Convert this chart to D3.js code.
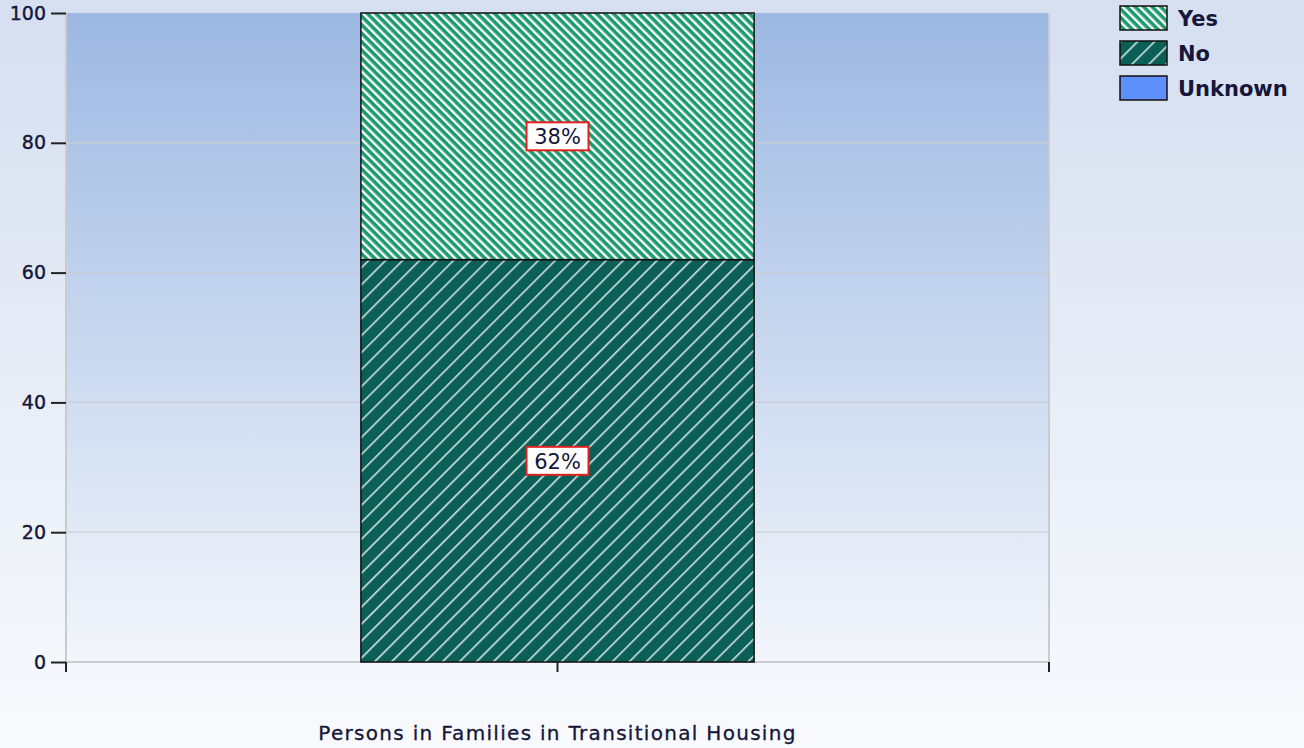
<!DOCTYPE html>
<html>
<head>
<meta charset="utf-8">
<script src="https://cdn.jsdelivr.net/npm/d3@7"></script>
<style>
  html, body { margin: 0; padding: 0; }
  body { width: 1304px; height: 748px; overflow: hidden; }
  text { font-family: "DejaVu Sans", sans-serif; }
</style>
</head>
<body>
<script>
const width = 1304;
const height = 748;

// data
const categories = ["Persons in Families in Transitional Housing"];
const seriesNames = ["No", "Yes", "Unknown"];
const noValues = [62];
const yesValues = [38];
const unknownValues = [0];
const yTicks = [0, 20, 40, 60, 80, 100];
const legendItems = ["Yes", "No", "Unknown"];

const margin = { top: 13, left: 66, right: 255, bottom: 86 };
const textColor = "#16163a";

const svg = d3.select("body")
  .append("svg")
  .attr("width", width)
  .attr("height", height);

const defs = svg.append("defs");

// page gradient
const pageGrad = defs.append("linearGradient")
  .attr("id", "pageGrad").attr("x1", 0).attr("y1", 0).attr("x2", 0).attr("y2", 1);
pageGrad.append("stop").attr("offset", "0%").attr("stop-color", "#d5dff0");
pageGrad.append("stop").attr("offset", "100%").attr("stop-color", "#f8fafd");

// plot gradient
const plotGrad = defs.append("linearGradient")
  .attr("id", "plotGrad").attr("x1", 0).attr("y1", 0).attr("x2", 0).attr("y2", 1);
plotGrad.append("stop").attr("offset", "0%").attr("stop-color", "#9cb8e2");
plotGrad.append("stop").attr("offset", "100%").attr("stop-color", "#f3f6fb");

// hatch patterns: Yes = dense "\" stripes, No = sparse "/" lines
const yesPat = defs.append("pattern")
  .attr("id", "yesPat")
  .attr("patternUnits", "userSpaceOnUse")
  .attr("width", 6).attr("height", 6)
  .attr("patternTransform", "rotate(-45)");
yesPat.append("rect").attr("width", 6).attr("height", 6).attr("fill", "#1b9a6c");
yesPat.append("rect").attr("x", 0).attr("width", 2.4).attr("height", 6).attr("fill", "#ffffff");

const noPat = defs.append("pattern")
  .attr("id", "noPat")
  .attr("patternUnits", "userSpaceOnUse")
  .attr("width", 12).attr("height", 12)
  .attr("patternTransform", "rotate(45)");
noPat.append("rect").attr("width", 12).attr("height", 12).attr("fill", "#0b5f57");
noPat.append("rect").attr("x", 0).attr("width", 1.6).attr("height", 12).attr("fill", "#cfe3df");

const fills = { Yes: "url(#yesPat)", No: "url(#noPat)", Unknown: "#5f8ffa" };

svg.append("rect").attr("width", width).attr("height", height).attr("fill", "url(#pageGrad)");

const x = d3.scaleBand()
  .domain(categories)
  .range([margin.left, width - margin.right])
  .paddingInner(0.6)
  .paddingOuter(0.3);

const y = d3.scaleLinear()
  .domain([0, 100])
  .range([height - margin.bottom, margin.top]);

const x0 = margin.left, x1 = width - margin.right;

svg.append("rect")
  .attr("x", x0).attr("y", y(100))
  .attr("width", x1 - x0).attr("height", y(0) - y(100))
  .attr("fill", "url(#plotGrad)");

// grid
svg.append("g")
  .selectAll("line")
  .data(yTicks.filter(d => d > 0 && d < 100))
  .join("line")
  .attr("x1", x0).attr("x2", x1)
  .attr("y1", d => y(d)).attr("y2", d => y(d))
  .attr("stroke", "#c9ccd2").attr("stroke-width", 1.2);

// frame left/bottom/right light gray
svg.append("path")
  .attr("d", `M${x0},${y(100)}V${y(0)}H${x1}V${y(100)}`)
  .attr("fill", "none").attr("stroke", "#c8cbd0").attr("stroke-width", 2);

// stacked data
const rows = categories.map((c, i) => ({ cat: c, No: noValues[i], Yes: yesValues[i], Unknown: unknownValues[i] }));
const stack = d3.stack().keys(seriesNames)(rows);

const layers = svg.append("g").selectAll("g")
  .data(stack)
  .join("g")
  .attr("fill", d => fills[d.key]);

layers.selectAll("rect")
  .data(d => d.filter(s => s[1] - s[0] > 0))
  .join("rect")
  .attr("x", d => x(d.data.cat))
  .attr("width", x.bandwidth())
  .attr("y", d => y(d[1]))
  .attr("height", d => y(d[0]) - y(d[1]))
  .attr("stroke", "#111")
  .attr("stroke-width", 1.5);

// value labels
stack.forEach(layer => {
  layer.filter(s => s[1] - s[0] > 0).forEach(s => {
    const cx = x(s.data.cat) + x.bandwidth() / 2;
    const cy = y((s[0] + s[1]) / 2);
    const g = svg.append("g");
    g.append("rect")
      .attr("x", cx - 31).attr("y", cy - 14)
      .attr("width", 62).attr("height", 28)
      .attr("fill", "#ffffff")
      .attr("stroke", "#e0201c").attr("stroke-width", 2);
    g.append("text")
      .attr("x", cx).attr("y", cy + 1)
      .attr("text-anchor", "middle")
      .attr("dominant-baseline", "central")
      .attr("font-size", 21)
      .attr("fill", textColor)
      .text(Math.round(s[1] - s[0]) + "%");
  });
});

// y axis
const yAxis = svg.append("g")
  .attr("transform", `translate(${x0},0)`)
  .call(d3.axisLeft(y).tickValues(yTicks).tickSize(15).tickPadding(5));
yAxis.select(".domain").remove();
yAxis.selectAll(".tick line").attr("stroke", "#222").attr("stroke-width", 2);
yAxis.selectAll(".tick text")
  .attr("font-size", 19).attr("fill", textColor)
  .attr("stroke", textColor).attr("stroke-width", 0.4)
  .attr("font-family", '"DejaVu Sans", sans-serif');

// x axis ticks: band edges and center
const xTicksPos = [x0, x(categories[0]) + x.bandwidth() / 2, x1];
svg.append("g").selectAll("line")
  .data(xTicksPos)
  .join("line")
  .attr("x1", d => d).attr("x2", d => d)
  .attr("y1", y(0)).attr("y2", y(0) + 10)
  .attr("stroke", "#222").attr("stroke-width", 2);

svg.append("text")
  .attr("x", x(categories[0]) + x.bandwidth() / 2)
  .attr("y", 740)
  .attr("text-anchor", "middle")
  .attr("font-size", 20)
  .attr("letter-spacing", 1.3)
  .attr("fill", textColor)
  .attr("stroke", textColor).attr("stroke-width", 0.3)
  .text(categories[0]);

// legend
const legend = svg.append("g").attr("transform", "translate(1120,6)");
const li = legend.selectAll("g")
  .data(legendItems)
  .join("g")
  .attr("transform", (d, i) => `translate(0,${i * 35})`);
li.append("rect")
  .attr("width", 47).attr("height", 24)
  .attr("fill", d => fills[d])
  .attr("stroke", "#111").attr("stroke-width", 1.5);
li.append("text")
  .attr("x", 58).attr("y", 13)
  .attr("dominant-baseline", "central")
  .attr("font-size", 21)
  .attr("font-weight", "bold")
  .attr("fill", textColor)
  .text(d => d);
</script>
</body>
</html>
